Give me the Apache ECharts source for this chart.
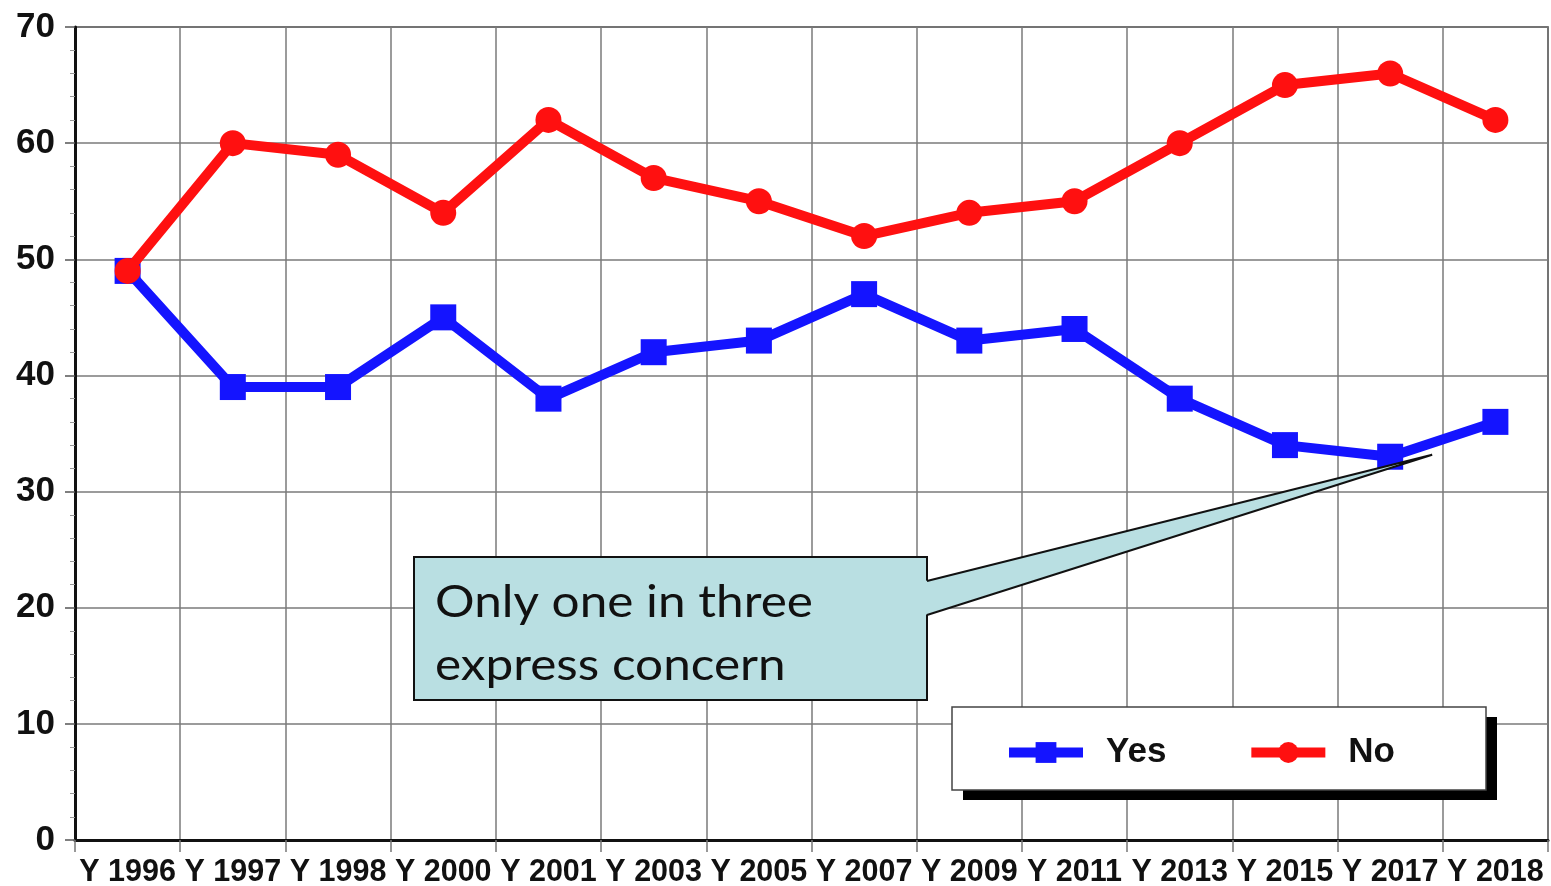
<!DOCTYPE html>
<html>
<head>
<meta charset="utf-8">
<script src="https://cdn.jsdelivr.net/npm/echarts@6/dist/echarts.min.js"></script>
<style>
html,body{margin:0;padding:0;background:#fff;}
#main{width:1551px;height:886px;}
</style>
</head>
<body>
<div id="main"></div>
<script>
const categories = ['Y 1996','Y 1997','Y 1998','Y 2000','Y 2001','Y 2003','Y 2005','Y 2007','Y 2009','Y 2011','Y 2013','Y 2015','Y 2017','Y 2018'];
const yesValues = [49, 39, 39, 45, 38, 42, 43, 47, 43, 44, 38, 34, 33, 36];
const noValues  = [49, 60, 59, 54, 62, 57, 55, 52, 54, 55, 60, 65, 66, 62];
const annotationLines = ['Only one in three', 'express concern'];

const chart = echarts.init(document.getElementById('main'), null, {renderer:'canvas'});
const FONT = 'Liberation Sans, Arial, sans-serif';
const option = {
  animation: false,
  backgroundColor: '#ffffff',
  grid: {left: 75, top: 27, right: 3, bottom: 46, outerBoundsMode: 'none', containLabel: false, show: true, borderColor: '#333', borderWidth: 1.5, backgroundColor: 'transparent'},
  xAxis: {
    type: 'category', data: categories, boundaryGap: true,
    axisLine: {show: true, lineStyle: {color: '#111', width: 3}},
    axisTick: {show: true, alignWithLabel: false, length: 12, lineStyle: {color: '#777', width: 1.5}},
    axisLabel: {interval: 0, margin: 17, color: '#111', fontFamily: FONT, fontWeight: 'bold', fontSize: 30.5},
    splitLine: {show: true, interval: 0, lineStyle: {color: '#7a7a7a', width: 1.5}}
  },
  yAxis: {
    type: 'value', min: 0, max: 70, interval: 10,
    axisLine: {show: true, lineStyle: {color: '#111', width: 3}},
    axisTick: {show: true, length: 10, lineStyle: {color: '#555', width: 1.5}},
    minorTick: {show: true, splitNumber: 5, length: 5, lineStyle: {color: '#999', width: 1}},
    axisLabel: {margin: 20, color: '#111', fontFamily: FONT, fontWeight: 'bold', fontSize: 35},
    splitLine: {show: true, lineStyle: {color: '#7a7a7a', width: 1.5}}
  },
  legend: {
    left: 1004, top: 735, orient: 'horizontal', z: 10,
    padding: 0, itemGap: 80, itemWidth: 74, itemHeight: 26,
    lineStyle: {width: 10},
    textStyle: {color: '#111', fontFamily: FONT, fontWeight: 'bold', fontSize: 35, padding: [0,0,0,18]},
    data: ['Yes', 'No']
  },
  series: [
    {name: 'Yes', type: 'line', data: yesValues, symbol: 'rect', symbolSize: 26,
     lineStyle: {color: '#1414ff', width: 10}, itemStyle: {color: '#1414ff'}, z: 3},
    {name: 'No', type: 'line', data: noValues, symbol: 'circle', symbolSize: 26,
     lineStyle: {color: '#ff1010', width: 10}, itemStyle: {color: '#ff1010'}, z: 4}
  ]
};
chart.setOption(option);

// annotation callout pointing to the 2017 "Yes" point
const p = chart.convertToPixel({xAxisIndex: 0, yAxisIndex: 0}, [categories[12], yesValues[12]]);
const tipX = p[0] + 42, tipY = p[1] - 2;
const bx = 414, by = 557, bw = 513, bh = 143;
const fill = '#b9dfe2';
const lx = 952, ly = 707, lw = 534, lh = 83;
chart.setOption({
  graphic: [
    {type: 'rect', shape: {x: lx + 11, y: ly + 10, width: lw, height: lh}, style: {fill: '#000'}, z: 5},
    {type: 'rect', shape: {x: lx, y: ly, width: lw, height: lh}, style: {fill: '#fff', stroke: '#444', lineWidth: 1.5}, z: 6},
    {type: 'rect', shape: {x: bx, y: by, width: bw, height: bh}, style: {fill: fill, stroke: '#111', lineWidth: 2}, z: 100},
    {type: 'polygon', shape: {points: [[bx + bw - 2, 581], [tipX, tipY], [bx + bw - 2, 615]]}, style: {fill: fill, stroke: null}, z: 101},
    {type: 'polyline', shape: {points: [[bx + bw, 581], [tipX, tipY], [bx + bw, 615]]}, style: {stroke: '#111', lineWidth: 2, fill: null}, z: 102},
    {type: 'text', x: 435, y: 602, scaleX: 1.1, style: {text: annotationLines[0], fill: '#111', font: '45px Lato, "Open Sans", sans-serif', verticalAlign: 'middle'}, z: 103},
    {type: 'text', x: 435, y: 665, scaleX: 1.1, style: {text: annotationLines[1], fill: '#111', font: '45px Lato, "Open Sans", sans-serif', verticalAlign: 'middle'}, z: 103}
  ]
});
</script>
</body>
</html>
